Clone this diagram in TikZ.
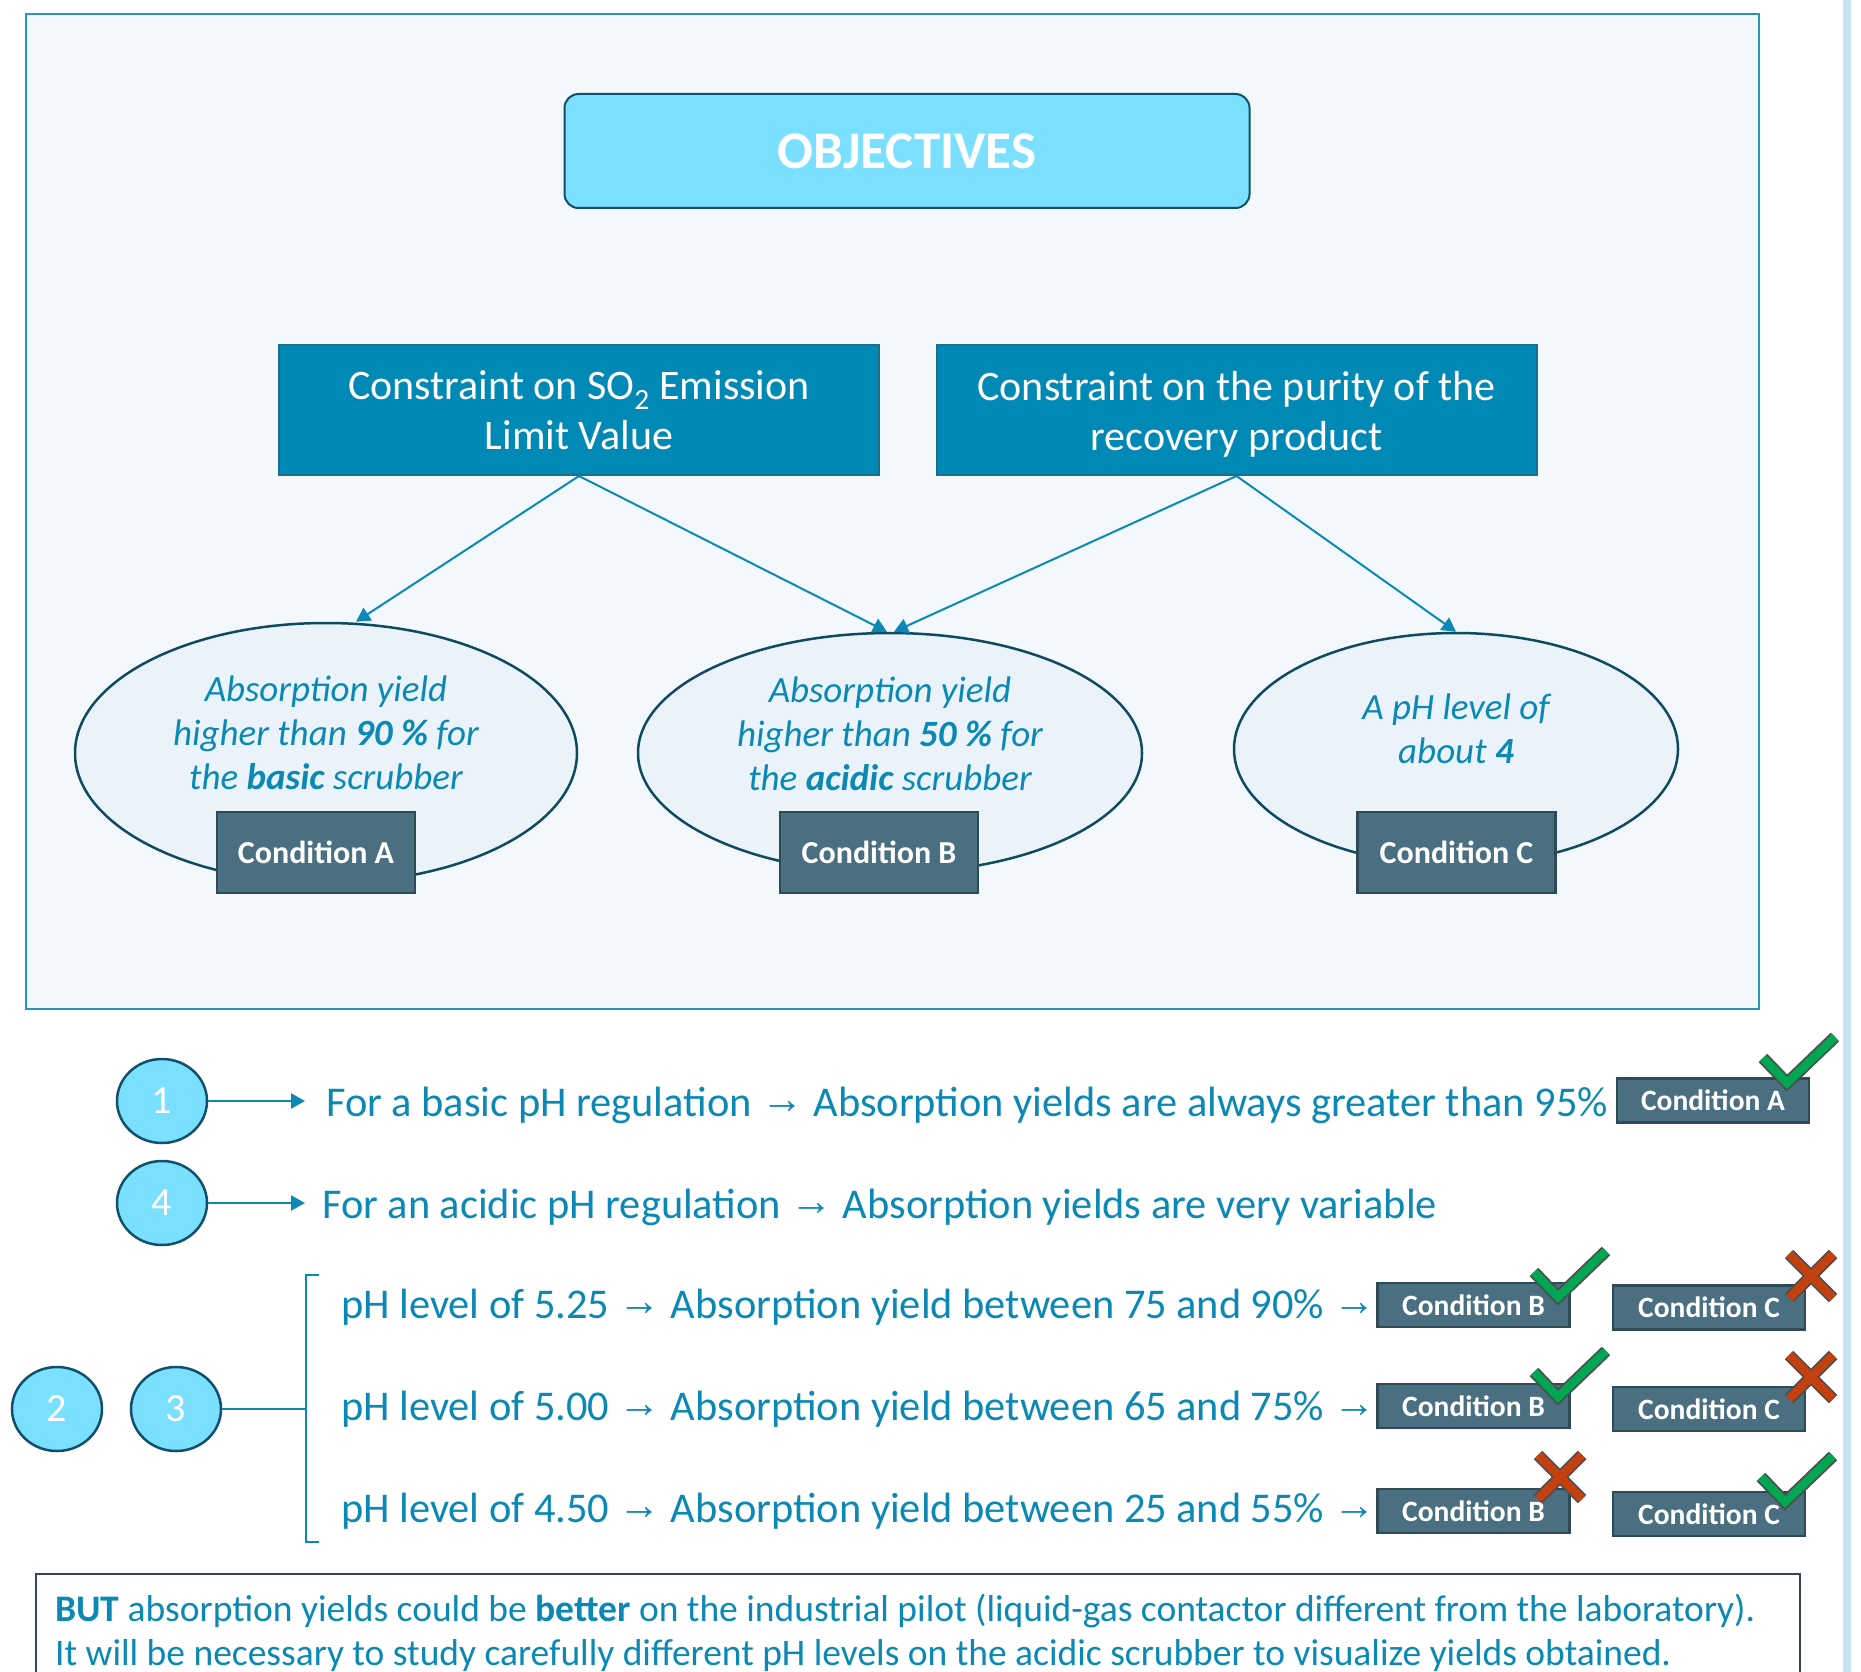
\documentclass[tikz,border=0pt]{standalone}
\usepackage{fontspec}
\setmainfont{Carlito}
\newfontfamily\arrowfont{Liberation Sans}
\usetikzlibrary{positioning,arrows.meta,shapes.geometric}
\definecolor{ink}{HTML}{0B89B4}
\definecolor{cbox}{HTML}{0089B5}
\definecolor{cboxline}{HTML}{1D6F8F}
\definecolor{cond}{HTML}{4A6F80}
\definecolor{condline}{HTML}{2F4A57}
\definecolor{bubble}{HTML}{7BE0FF}
\definecolor{bubbleline}{HTML}{11506A}
\definecolor{panel}{HTML}{F2F8FB}
\definecolor{panelline}{HTML}{2B94BB}
\definecolor{oval}{HTML}{EAF3FA}
\definecolor{ovalline}{HTML}{0F4A5E}
\definecolor{okgreen}{HTML}{00A651}
\definecolor{nored}{HTML}{C4400F}
\definecolor{strip}{HTML}{C9E2F1}
\newcommand{\toarrow}{\raisebox{0.06em}{\arrowfont →}}
% tick and cross marks, #1 = their corner / centre point
\newcommand{\okmark}[1]{%
  \draw[markline] (#1) +(-24,-25) -- (#1) -- +(48,-46);
  \draw[markok]   (#1) +(-24,-25) -- (#1) -- +(48,-46);}
\newcommand{\nomark}[1]{%
  \draw[markline] (#1) +(-22,-22) -- +(22,22) (#1) +(-22,22) -- +(22,-22);
  \draw[markno]   (#1) +(-22,-22) -- +(22,22) (#1) +(-22,22) -- +(22,-22);}

\begin{document}
\begin{tikzpicture}[x=1pt, y=-1pt,
  every node/.style={inner sep=0pt},
  goal/.style={
    draw=bubbleline, fill=bubble, rounded corners=14pt, line width=2pt,
    minimum width=685, minimum height=114, text=white,
    font=\bfseries\fontsize{53}{60}\selectfont,
  },
  constr/.style={
    draw=cboxline, fill=cbox, line width=2pt, text=white, align=center,
    minimum width=600, minimum height=130,
    font=\fontsize{42}{50}\selectfont,
  },
  ovalbox/.style={ellipse, draw=ovalline, fill=oval, line width=2.5pt},
  ovaltext/.style={text=ink, align=center, font=\itshape\fontsize{37}{44}\selectfont},
  cond/.style={
    draw=condline, fill=cond, line width=2.5pt, text=white,
    minimum width=198, minimum height=81,
    font=\bfseries\fontsize{32}{38}\selectfont,
  },
  condsm/.style={cond, minimum width=192, minimum height=44,
    font=\bfseries\fontsize{29.5}{35}\selectfont},
  num/.style={
    ellipse, draw=bubbleline, fill=bubble, line width=2.5pt, text=white,
    minimum width=90, minimum height=84, font=\fontsize{40}{48}\selectfont,
  },
  row/.style={text=ink, anchor=west, text height=30pt, text depth=0pt,
    font=\fontsize{42.4}{52}\selectfont},
  link/.style={-{Triangle[length=14pt,width=15pt]}, line width=2pt, draw=ink},
  brk/.style={line width=2pt, draw=ink},
  markline/.style={line width=12pt, draw=black!70, line join=miter, line cap=butt},
  markok/.style={line width=8.5pt, draw=okgreen, line join=miter, line cap=butt},
  markno/.style={line width=8.5pt, draw=nored, line cap=butt},
]
  \useasboundingbox (0,0) rectangle (1861,1672);
  \fill[white] (0,0) rectangle (1861,1672);
  \fill[strip] (1843,0) rectangle (1851,1672);

  % Upper panel: objectives, constraints, conditions
  \draw[fill=panel, draw=panelline, line width=2pt] (26,14) rectangle (1759,1009);
  \node[goal] (goal) at (907,151) {OBJECTIVES};

  \node[constr] (so2) at (579,410) {Constraint on SO\textsubscript{2} Emission\\Limit Value};
  \node[constr] (purity) at (1236.5,410)
    {\rule{0pt}{38pt}Constraint on the purity of the\\recovery product};

  \node[ovalbox, minimum width=502, minimum height=260] (ellA) at (326,753) {};
  \node[ovalbox, minimum width=504, minimum height=240] (ellB) at (890,753) {};
  \node[ovalbox, minimum width=444, minimum height=232] (ellC) at (1456,749) {};

  \node[ovaltext] (txtA) at (326,733)
    {Absorption yield\\higher than \textbf{90 \%} for\\the \textbf{basic} scrubber};
  \node[ovaltext] (txtB) at (890,734)
    {Absorption yield\\higher than \textbf{50 \%} for\\the \textbf{acidic} scrubber};
  \node[ovaltext] (txtC) at (1456,729) {A pH level of\\about \textbf{4}};

  \node[cond] (condA) at (316,852.5) {Condition A};
  \node[cond] (condB) at (879,852.5) {Condition B};
  \node[cond] (condC) at (1456.5,852.5) {Condition C};

  \draw[link] (so2.south) -- ([xshift=30pt]ellA.north);
  \draw[link] (so2.south) -- ([xshift=-3pt]ellB.north);
  \draw[link] (purity.south) -- ([xshift=4pt]ellB.north);
  \draw[link] (purity.south) -- (ellC.north);

  % Results
  \node[num] (n1) at (162,1101) {1};
  \node[num] (n4) at (162,1203) {4};
  \node[num] (n2) at (57,1409) {2};
  \node[num] (n3) at (176,1409) {3};

  \node[row] (row1) at (326,1101)
    {For a basic pH regulation \toarrow{} Absorption yields are always greater than 95\%};
  \node[row] (row4) at (322,1203)
    {For an acidic pH regulation \toarrow{} Absorption yields are very variable};
  \draw[link] (n1) -- ([xshift=-21pt]row1.west);
  \draw[link] (n4) -- ([xshift=-17pt]row4.west);
  \node[condsm] (smA) at (1713,1100.5) {Condition A};

  \coordinate (fork) at (306,1409);
  \draw[brk] (n3) -- (fork);
  \draw[brk] (319,1275) -| (306,1542) -- (319,1542);

  \node[row] (ph1) at (341,1303)
    {pH level of 5.25 \toarrow{} Absorption yield between 75 and 90\% \toarrow};
  \node[row] (ph2) at (341,1405)
    {pH level of 5.00 \toarrow{} Absorption yield between 65 and 75\% \toarrow};
  \node[row] (ph3) at (341,1507)
    {pH level of 4.50 \toarrow{} Absorption yield between 25 and 55\% \toarrow};

  \node[condsm] (b1) at (1473.5,1305) {Condition B};
  \node[condsm] (c1) at (1709,1307.5) {Condition C};
  \node[condsm] (b2) at (1473.5,1406) {Condition B};
  \node[condsm] (c2) at (1709,1409) {Condition C};
  \node[condsm] (b3) at (1473.5,1511) {Condition B};
  \node[condsm] (c3) at (1709,1514) {Condition C};

  \okmark{1787,1083}
  \okmark{1558,1297}
  \nomark{1811,1276}
  \okmark{1558,1397}
  \nomark{1811,1377}
  \nomark{1560,1477}
  \okmark{1785,1502}

  % Closing remark
  \draw[draw=condline, fill=white, line width=2.5pt] (36,1574) rectangle (1800,1700);
  \node[text=ink, anchor=base west, align=left, font=\fontsize{37.5}{44}\selectfont]
    (note) at (55,1665)
    {\textbf{BUT} absorption yields could be \textbf{better} on the industrial pilot (liquid-gas contactor different from the laboratory).\\
     It will be necessary to study carefully different pH levels on the acidic scrubber to visualize yields obtained.};
\end{tikzpicture}
\end{document}
